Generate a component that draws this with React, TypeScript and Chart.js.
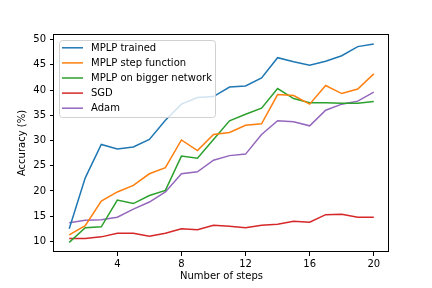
import React, { useEffect, useRef } from "react";
import { Chart, registerables } from "chart.js";

Chart.register(...registerables);

const steps = [1, 2, 3, 4, 5, 6, 7, 8, 9, 10, 11, 12, 13, 14, 15, 16, 17, 18, 19, 20];
const mlpTrained = [12.5, 22.6, 29.2, 28.3, 28.7, 30.2, 34.0, 37.2, 38.5, 38.7, 40.6, 40.8, 42.4, 46.4, 45.6, 44.9, 45.7, 46.8, 48.6, 49.1];
const mlpStep = [11.3, 13.1, 18.0, 19.8, 21.1, 23.4, 24.6, 30.1, 28.0, 31.2, 31.6, 33.0, 33.3, 39.1, 38.9, 37.2, 40.9, 39.3, 40.2, 43.2];
const mlpBigger = [9.8, 12.7, 12.9, 18.2, 17.5, 19.1, 20.1, 26.9, 26.5, 30.2, 33.9, 35.2, 36.4, 40.3, 38.3, 37.5, 37.5, 37.4, 37.4, 37.7];
const sgd = [10.6, 10.6, 10.9, 11.6, 11.6, 11.0, 11.6, 12.5, 12.3, 13.2, 13.0, 12.7, 13.2, 13.4, 14.0, 13.8, 15.3, 15.4, 14.8, 14.8];
const adam = [13.7, 14.2, 14.3, 14.8, 16.4, 17.8, 19.8, 23.4, 23.8, 26.1, 27.0, 27.3, 31.2, 33.9, 33.7, 32.9, 36.0, 37.2, 37.8, 39.6];

const seriesNames = ["MPLP trained", "MPLP step function", "MPLP on bigger network", "SGD", "Adam"];
const seriesValues = [mlpTrained, mlpStep, mlpBigger, sgd, adam];
const seriesColors = ["#1f77b4", "#ff7f0e", "#2ca02c", "#d62728", "#9467bd"];

const xTicks = [4, 8, 12, 16, 20];
const yTicks = [10, 15, 20, 25, 30, 35, 40, 45, 50];
const xLabel = "Number of steps";
const yLabel = "Accuracy (%)";

const FONT = '10px "DejaVu Sans"';

export default function App() {
  const ref = useRef<HTMLCanvasElement | null>(null);

  useEffect(() => {
    document.body.style.margin = "0";
    const canvas = ref.current;
    if (!canvas) return;

    const decorPlugin = {
      id: "decor",
      afterDraw(chart: any) {
        const { ctx, chartArea: a } = chart;
        ctx.save();
        // frame
        ctx.strokeStyle = "#000";
        ctx.lineWidth = 1;
        const l = Math.round(a.left) - 0.5;
        const t = Math.round(a.top) + 0.5;
        const r = Math.round(a.right) - 0.5;
        const b = Math.round(a.bottom) - 0.5;
        ctx.strokeRect(l, t, r - l, b - t);

        // axis titles
        ctx.fillStyle = "#000";
        ctx.font = FONT;
        ctx.textAlign = "center";
        ctx.textBaseline = "middle";
        ctx.fillText(xLabel, (a.left + a.right) / 2, 276.5);
        ctx.save();
        ctx.translate(22, (a.top + a.bottom) / 2);
        ctx.rotate(-Math.PI / 2);
        ctx.fillText(yLabel, 0, 0);
        ctx.restore();

        // legend
        const bx = 59.5, by = 40.5, bw = 156, bh = 77;
        ctx.beginPath();
        ctx.roundRect(bx, by, bw, bh, 3);
        ctx.fillStyle = "rgba(255,255,255,0.8)";
        ctx.fill();
        ctx.strokeStyle = "rgba(204,204,204,0.9)";
        ctx.lineWidth = 1;
        ctx.stroke();
        ctx.textAlign = "left";
        ctx.textBaseline = "middle";
        seriesNames.forEach((name, i) => {
          const y = 47.8 + i * 15.1;
          ctx.strokeStyle = seriesColors[i];
          ctx.lineWidth = 1.5;
          ctx.beginPath();
          ctx.moveTo(62, y);
          ctx.lineTo(83, y);
          ctx.stroke();
          ctx.fillStyle = "#000";
          ctx.fillText(name, 91, y + 0.5);
        });
        ctx.restore();
      },
    };

    const chart = new Chart(canvas, {
      type: "line",
      data: {
        datasets: seriesNames.map((name, i) => ({
          label: name,
          data: steps.map((s, j) => ({ x: s, y: seriesValues[i][j] })),
          borderColor: seriesColors[i],
          backgroundColor: seriesColors[i],
          borderWidth: 1.5,
          pointRadius: 0,
          tension: 0,
          fill: false,
        })),
      },
      options: {
        animation: false,
        responsive: false,
        devicePixelRatio: 1,
        events: [],
        layout: { padding: { left: 0, top: 34, right: 43, bottom: 0 } },
        plugins: {
          legend: { display: false },
          tooltip: { enabled: false },
        },
        scales: {
          x: {
            type: "linear",
            min: 0.05,
            max: 20.95,
            afterBuildTicks: (scale: any) => {
              scale.ticks = xTicks.map((v) => ({ value: v }));
            },
            afterFit: (scale: any) => {
              scale.height = 36;
            },
            border: { display: false },
            grid: {
              display: true,
              drawOnChartArea: false,
              drawTicks: true,
              tickLength: 4,
              tickColor: "#000",
              lineWidth: 1,
            },
            ticks: {
              color: "#000",
              font: { family: "DejaVu Sans", size: 10 },
              padding: 2,
              maxRotation: 0,
              autoSkip: false,
            },
          },
          y: {
            type: "linear",
            min: 7.9,
            max: 51.1,
            afterBuildTicks: (scale: any) => {
              scale.ticks = yTicks.map((v) => ({ value: v }));
            },
            afterFit: (scale: any) => {
              scale.width = 54;
            },
            border: { display: false },
            grid: {
              display: true,
              drawOnChartArea: false,
              drawTicks: true,
              tickLength: 4,
              tickColor: "#000",
              lineWidth: 1,
            },
            ticks: {
              color: "#000",
              font: { family: "DejaVu Sans", size: 10 },
              padding: 4,
              autoSkip: false,
            },
          },
        },
      },
      plugins: [decorPlugin],
    });

    return () => {
      chart.destroy();
    };
  }, []);

  return (
    <div style={{ position: "fixed", left: 0, top: 0, width: 432, height: 288, background: "#fff" }}>
      <canvas ref={ref} width={432} height={288} style={{ display: "block", width: 432, height: 288 }} />
    </div>
  );
}
